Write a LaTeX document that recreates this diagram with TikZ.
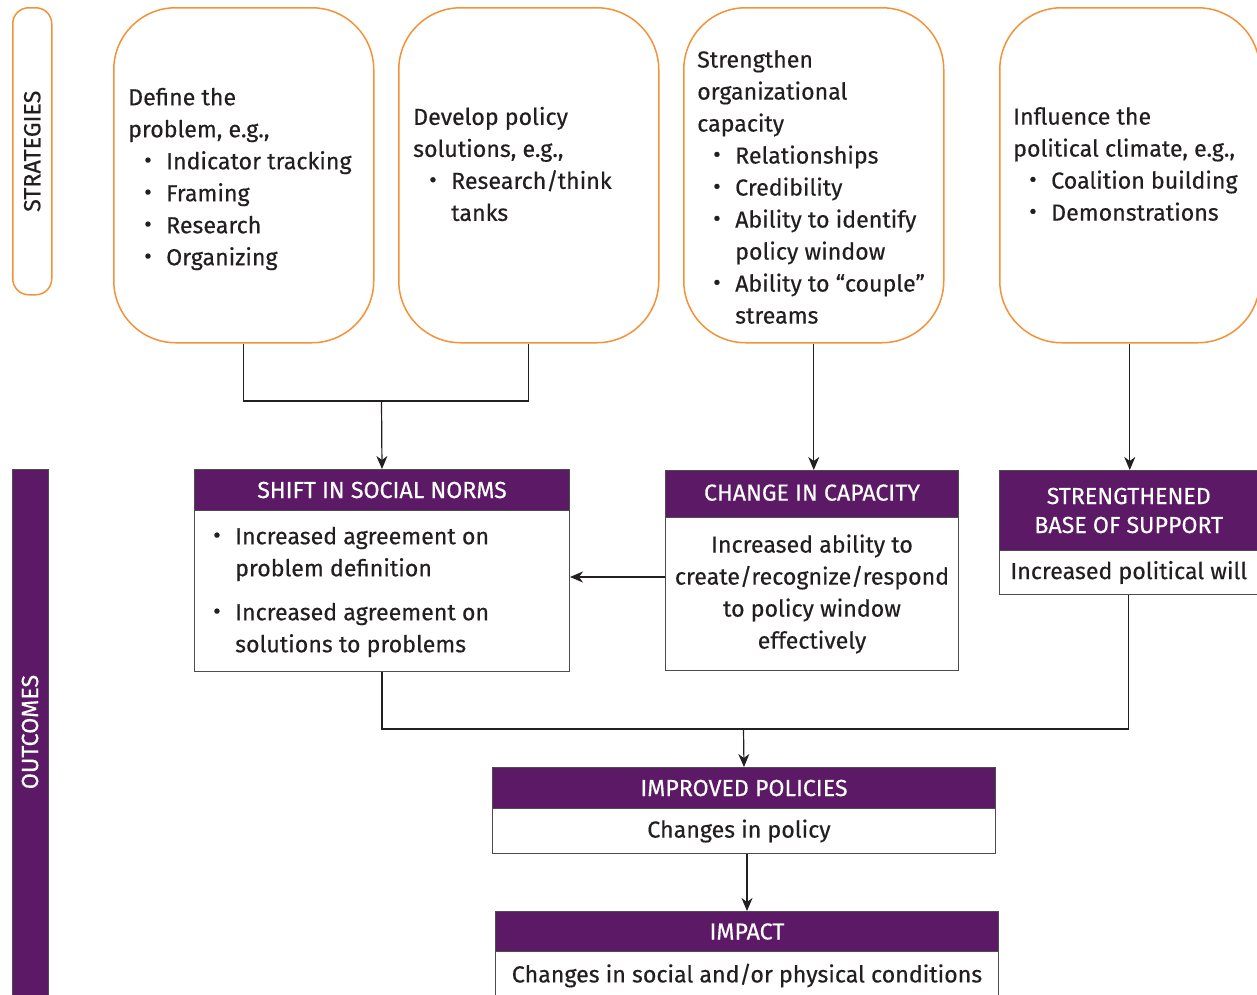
\documentclass[tikz,border=0pt]{standalone}
\usepackage{fontspec}
\usepackage{graphicx}
\setmainfont{Fira Sans}[FakeBold=0.35]
\usetikzlibrary{arrows.meta}
\definecolor{org}{HTML}{F39237}
\definecolor{pur}{HTML}{5C1A66}
\definecolor{ink}{HTML}{231F20}
\newcommand\bul{\hspace*{16pt}\makebox[22pt][l]{\raisebox{0.1ex}{\textbullet}}}
\newcommand\ind{\hspace*{38pt}}
\begin{document}
\begin{tikzpicture}[x=1pt,y=-1pt,
  strat/.style={draw=org, line width=1.5pt, rounded corners=62pt, minimum width=260pt, minimum height=335pt, anchor=north west, inner sep=0pt},
  txt/.style={font=\fontsize{23.2}{32}\selectfont, text=ink, align=left, inner sep=0pt, anchor=west},
  hdr/.style={draw=ink!80, fill=pur, text=white, line width=1pt, font=\fontsize{23.2}{29}\selectfont, align=center, anchor=north west, inner sep=0pt},
  bdy/.style={draw=ink!80, fill=white, text=ink, line width=1pt, font=\fontsize{23.2}{32}\selectfont, align=center, anchor=north west, inner sep=0pt},
  con/.style={draw=ink, line width=1.2pt},
  arr/.style={con, -{Stealth[length=13pt,width=11pt,inset=4pt]}}]
\useasboundingbox (0,0) rectangle (1257,994);
% side labels
\node[draw=org, line width=1.5pt, rounded corners=16pt, minimum width=39pt, minimum height=287pt, anchor=north west, inner sep=0pt] (sl) at (12,7) {};
\node[rotate=90, font=\fontsize{23.3}{24}\selectfont, text=ink] (slt) at (sl.center) {STRATEGIES};
\node[fill=pur, draw=ink!80, line width=1pt, minimum width=36pt, minimum height=540pt, anchor=north west, inner sep=0pt] (ol) at (12,469) {};
\node[rotate=90, font=\fontsize{23.3}{24}\selectfont, text=white] (olt) at (30,732) {OUTCOMES};
% strategy boxes
\node[strat] (b1) at (113,7) {};
\node[strat] (b2) at (398,7) {};
\node[strat] (b3) at (683,7) {};
\node[strat] (b4) at (999,7) {};
\node[txt] (t1) at (128,179) {Define the\\problem, e.g.,\\\bul Indicator tracking\\\bul Framing\\\bul Research\\\bul Organizing};
\node[txt] (t2) at (413,164) {Develop policy\\solutions, e.g.,\\\bul Research/think\\\ind tanks};
\node[txt] (t3) at (697,187) {Strengthen\\organizational\\capacity\\\bul Relationships\\\bul Credibility\\\bul Ability to identify\\\ind policy window\\\bul Ability to ``couple''\\\ind streams};
\node[txt] (t4) at (1013,164) {Influence the\\political climate, e.g.,\\\bul Coalition building\\\bul Demonstrations};
% outcome boxes
\node[hdr, minimum width=375pt, minimum height=41pt] (h1) at (194,469) {SHIFT IN SOCIAL NORMS};
\node[bdy, minimum width=375pt, minimum height=161pt] (s1) at (194,510) {};
\node[txt] (t5) at (197,592) {\bul Increased agreement on\\\ind problem definition\\[12pt]\bul Increased agreement on\\\ind solutions to problems};
\node[hdr, minimum width=293pt, minimum height=47pt] (h2) at (665,470) {\raisebox{3pt}{CHANGE IN CAPACITY}};
\node[bdy, minimum width=293pt, minimum height=153pt] (c2) at (665,517) {Increased ability to\\create/recognize/respond\\to policy window\\effectively};
\node[hdr, minimum width=258.5pt, minimum height=80pt] (h3) at (999,470) {STRENGTHENED\\BASE OF SUPPORT};
\node[bdy, minimum width=258.5pt, minimum height=44pt] (c3) at (999,550) {Increased political will};
\node[hdr, minimum width=503pt, minimum height=41pt] (h4) at (492,767) {IMPROVED POLICIES};
\node[bdy, minimum width=503pt, minimum height=45pt] (c4) at (492,808) {Changes in policy\hspace*{10pt}};
\node[hdr, minimum width=503pt, minimum height=40pt] (h5) at (495,911) {IMPACT};
\node[bdy, minimum width=503pt, minimum height=48pt] (c5) at (495,951) {Changes in social and/or physical conditions};
% connectors
\coordinate (j1) at (381.5,401);
\draw[con] (b1.south) |- (j1) -| (b2.south);
\draw[arr] (j1) -- (h1.north);
\draw[arr] (b3.south) -- (b3.south |- h2.north);
\draw[arr] (b4.south) -- (b4.south |- h3.north);
\coordinate (ya) at (0,577);
\draw[arr] (c2.west |- ya) -- (s1.east |- ya);
\coordinate (j2) at (743.5,729);
\draw[con] (s1.south) |- (j2) -| (c3.south);
\draw[arr] (j2) -- (h4.north);
\draw[arr] (h5.north |- c4.south) -- (h5.north);
\end{tikzpicture}
\end{document}
